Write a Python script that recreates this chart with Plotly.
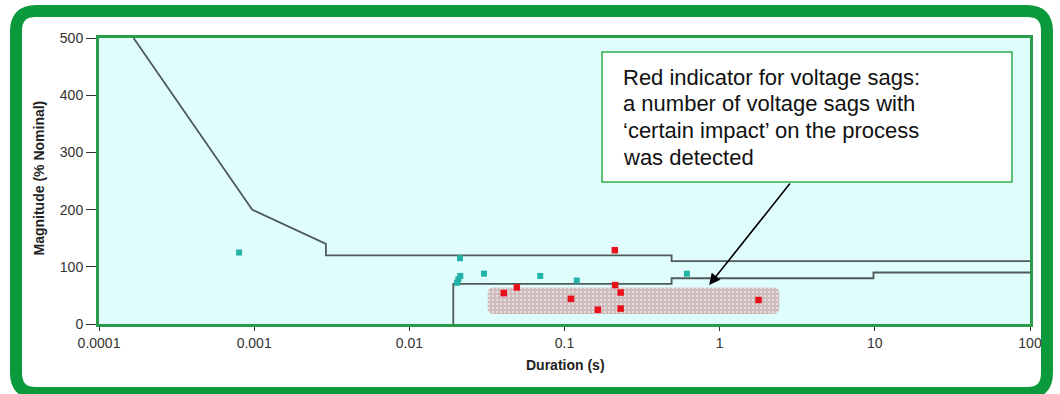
import numpy as np
import plotly.graph_objects as go

# ---- data ----
upper_x = [0.000167, 0.00097, 0.0029, 0.0029, 0.49, 0.49, 100]
upper_y = [500, 200, 140, 120, 120, 110, 110]
lower_x = [0.0192, 0.0192, 0.49, 0.49, 9.8, 9.8, 100]
lower_y = [0, 70, 70, 80, 80, 90, 90]

teal_x = [0.0008, 0.0212, 0.0213, 0.0207, 0.0203, 0.0303, 0.0698, 0.12, 0.615]
teal_y = [125, 115, 84, 78, 72, 88, 84, 76, 88]

red_x = [0.211, 0.212, 0.0406, 0.0493, 0.11, 0.164, 0.23, 0.23, 1.78]
red_y = [129, 68, 54, 64, 44, 25, 55, 27, 42]

sag_region_x = [0.032, 2.42]
sag_region_y = [17.5, 64]

x_tickvals = [0.0001, 0.001, 0.01, 0.1, 1, 10, 100]
x_ticktext = ["0.0001", "0.001", "0.01", "0.1", "1", "10", "100"]
y_tickvals = [0, 100, 200, 300, 400, 500]

note_lines = ["Red indicator for voltage sags:",
              "a number of voltage sags with",
              "\u2018certain impact\u2019 on the process",
              "was detected"]

# ---- layout geometry (pixels) ----
W, H = 1060, 394
L, R, T, B = 99, 30, 38, 70
PW, PH = W - L - R, H - T - B
FONT = "Liberation Sans, Arial, sans-serif"


def px(xp):
    return (xp - L) / PW


def py(yp):
    return (H - B - yp) / PH


def rounded_path(x0, y0, x1, y1, r):
    pts = [("M", x0 + r, y0), ("L", x1 - r, y0), ("Q", x1, y0, x1, y0 + r),
           ("L", x1, y1 - r), ("Q", x1, y1, x1 - r, y1), ("L", x0 + r, y1),
           ("Q", x0, y1, x0, y1 - r), ("L", x0, y0 + r), ("Q", x0, y0, x0 + r, y0)]
    s = ""
    for p in pts:
        if p[0] == "Q":
            s += f"Q{px(p[1]):.5f},{py(p[2]):.5f} {px(p[3]):.5f},{py(p[4]):.5f} "
        else:
            s += f"{p[0]}{px(p[1]):.5f},{py(p[2]):.5f} "
    return s + "Z"


# rounded box in data space (log x) for the sag region
def rounded_box(xr, yr, rpx=5, n=6):
    lx0, lx1 = np.log10(xr[0]), np.log10(xr[1])
    dec = PW / 6.0
    rx = rpx / dec
    ry = rpx / (PH / 500.0)
    cx = [lx1 - rx, lx0 + rx, lx0 + rx, lx1 - rx]
    cy = [yr[1] - ry, yr[1] - ry, yr[0] + ry, yr[0] + ry]
    starts = [0, 90, 180, 270]
    xs, ys = [], []
    for c in range(4):
        for a in np.linspace(starts[c], starts[c] + 90, n):
            t = np.radians(a)
            xs.append(10 ** (cx[c] + rx * np.cos(t)))
            ys.append(cy[c] + ry * np.sin(t))
    xs.append(xs[0]); ys.append(ys[0])
    return xs, ys


fig = go.Figure()

bx, by = rounded_box(sag_region_x, sag_region_y)
fig.add_trace(go.Scatter(
    x=bx, y=by, mode="lines", fill="toself", line=dict(width=0),
    fillcolor="#d2bebe",
    fillpattern=dict(shape=".", fgcolor="#ffffff", bgcolor="#cdb9b9",
                     size=4, solidity=0.35),
    hoverinfo="skip", showlegend=False))

line_col = "#4f5b59"
fig.add_trace(go.Scatter(x=upper_x, y=upper_y, mode="lines",
                         line=dict(color=line_col, width=1.8), showlegend=False))
fig.add_trace(go.Scatter(x=lower_x, y=lower_y, mode="lines",
                         line=dict(color=line_col, width=1.8), showlegend=False))
fig.add_trace(go.Scatter(x=teal_x, y=teal_y, mode="markers",
                         marker=dict(symbol="square", size=6, color="#22b2a6"),
                         showlegend=False))
fig.add_trace(go.Scatter(x=red_x, y=red_y, mode="markers",
                         marker=dict(symbol="square", size=6.5, color="#e8101a"),
                         showlegend=False))

shapes = [
    # outer green frame
    dict(type="path", xref="paper", yref="paper",
         path=rounded_path(16, 11, 1047, 393, 20),
         line=dict(color="#0b9a3b", width=12), fillcolor="rgba(0,0,0,0)",
         layer="below"),
    # note box
    dict(type="rect", xref="paper", yref="paper",
         x0=px(602), x1=px(1012), y0=py(182), y1=py(52),
         line=dict(color="#2cb04c", width=1.5), fillcolor="white", layer="above"),
]

annotations = []
for i, ln in enumerate(note_lines):
    annotations.append(dict(
        xref="paper", yref="paper", x=px(621), y=py(77 + 26.7 * i),
        xanchor="left", yanchor="middle", align="left", showarrow=False,
        text=ln, font=dict(family=FONT, size=22, color="#111111")))

annotations += [
    dict(xref="x", yref="y", x=np.log10(0.855), y=68, ax=82, ay=-103,
         axref="pixel", ayref="pixel", showarrow=True, arrowhead=2,
         arrowsize=1.4, arrowwidth=1.6, arrowcolor="black", text="",
         standoff=0),
    dict(xref="paper", yref="paper", x=px(38.5), y=py(178), textangle=-90,
         xanchor="center", yanchor="middle", showarrow=False,
         text="<b>Magnitude (% Nominal)</b>",
         font=dict(family=FONT, size=14, color="#222222")),
    dict(xref="paper", yref="paper", x=px(565), y=py(365),
         xanchor="center", yanchor="middle", showarrow=False,
         text="<b>Duration (s)</b>",
         font=dict(family=FONT, size=14, color="#222222")),
]

fig.update_layout(
    width=W, height=H,
    margin=dict(l=L, r=R, t=T, b=B, pad=0),
    paper_bgcolor="white", plot_bgcolor="#e0fdfd",
    font=dict(family=FONT, size=14, color="#333333"),
    shapes=shapes, annotations=annotations,
    xaxis=dict(type="log", range=[-4, 2], tickvals=x_tickvals, ticktext=x_ticktext,
               showgrid=False, zeroline=False, ticks="outside", ticklen=4,
               tickcolor="#333333", showline=True, mirror=True,
               linecolor="#2a9d4a", linewidth=3),
    yaxis=dict(range=[0, 500], tickvals=y_tickvals, showgrid=False, zeroline=False,
               ticks="outside", ticklen=10, tickcolor="#333333",
               showline=True, mirror=True, linecolor="#2a9d4a", linewidth=3),
)

fig.write_html("out.html", config={"displayModeBar": False},
               post_script="document.body.style.margin='0';document.body.style.overflow='hidden';")
